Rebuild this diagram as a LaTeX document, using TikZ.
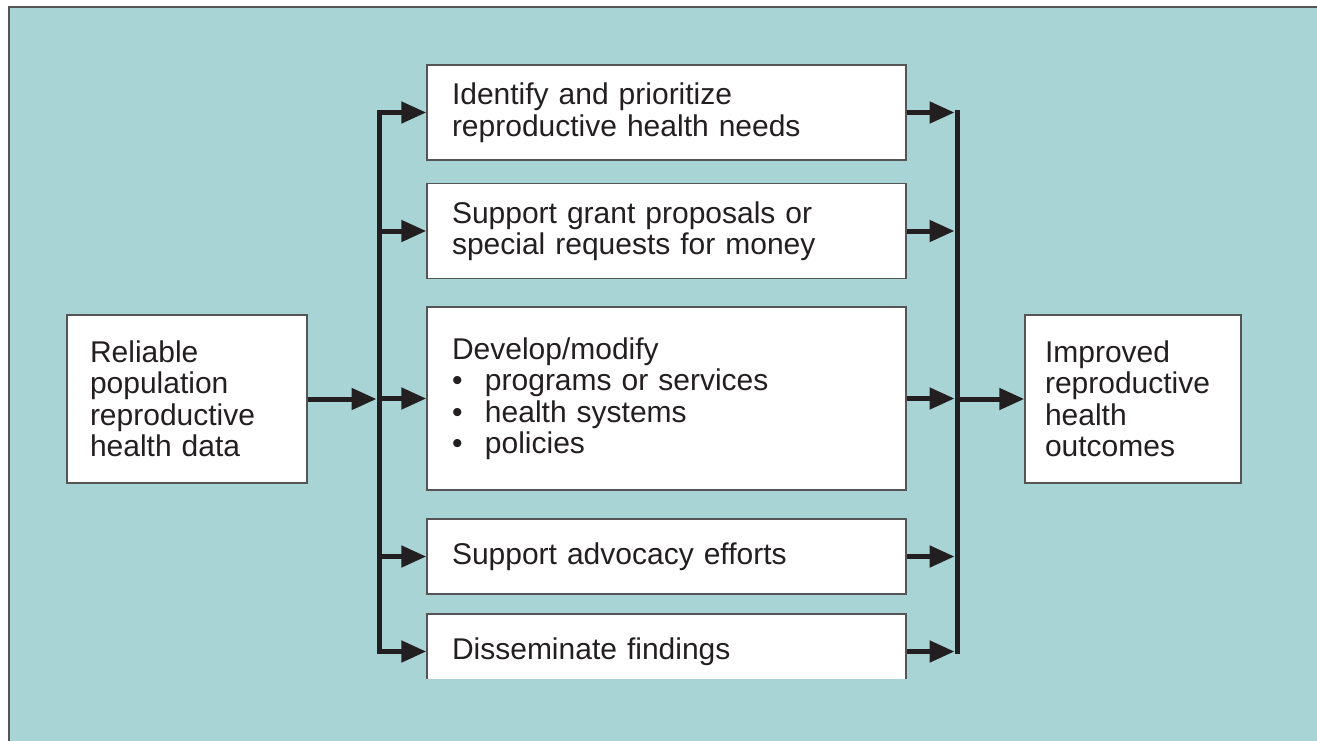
\documentclass[tikz,border=0pt]{standalone}
\usepackage{fontspec}
\setmainfont{Liberation Sans}
\usepackage{tikz}
\usetikzlibrary{arrows.meta,calc}
\definecolor{bg}{HTML}{A8D4D5}
\definecolor{ink}{HTML}{231F20}
\definecolor{edge}{HTML}{555555}
\tikzset{
  frame/.style={line width=2pt, draw=edge},
  box/.style={draw=edge, line width=1.5pt, fill=white, text=ink, align=left,
    font=\fontsize{30}{31.5}\selectfont, inner ysep=0pt},
  midbox/.style={box, inner xsep=25pt, text width=429pt, minimum width=479pt},
  bus/.style={line width=5pt, draw=ink, line cap=rect},
  arr/.style={-{Triangle[length=25pt,width=21pt]}, line width=5pt, draw=ink}
}
\newcommand{\Item}[1]{\makebox[33pt][l]{•}#1}
\begin{document}
\begin{tikzpicture}[x=1pt,y=-1pt]
  \useasboundingbox (0,0) rectangle (1317,740);
  \fill[bg] (9,7) rectangle (1340,760);
  \draw[frame] (9,760) -- (9,7) -- (1340,7);
  % input and output
  \node[box, inner xsep=23pt, text width=194pt, minimum height=168pt] (data) at (187,399)
    {Reliable\\population\\reproductive\\health data};
  \node[box, inner xsep=20pt, text width=176pt, minimum height=168pt] (outcome) at (1133,399)
    {Improved\\reproductive\\health\\outcomes};
  % uses of the data
  \node[midbox, minimum height=95pt] (need) at (666.5,112.5)
    {Identify and prioritize\\reproductive health needs};
  \node[midbox, minimum height=95pt] (grant) at (666.5,231)
    {Support grant proposals or\\special requests for money};
  \node[midbox, minimum height=183pt] (dev) at (666.5,398.5)
    {Develop/modify\\\Item{programs or services}\\\Item{health systems}\\\Item{policies}};
  \node[midbox, minimum height=75pt] (adv) at (666.5,556.5)
    {Support advocacy efforts};
  \begin{scope}
    \clip (0,0) rectangle (1317,678);
    \node[midbox, minimum height=75pt] (diss) at (666.5,651.5)
      {Disseminate findings};
  \end{scope}
  \coordinate (lx) at (379,0);
  \coordinate (rx) at (957,0);
  \draw[bus] (need.west -| lx) -- (diss.west -| lx);
  \draw[bus] (need.east -| rx) -- (diss.east -| rx);
  \draw[arr, shorten >=2.5pt] (data.east) -- (data.east -| lx);
  \foreach \b in {need,grant,dev,adv,diss}{
    \draw[arr] (\b.west -| lx) -- (\b.west);
    \draw[arr, shorten >=2.5pt] (\b.east) -- (\b.east -| rx);
  }
  \draw[arr] (outcome.west -| rx) -- (outcome.west);
\end{tikzpicture}
\end{document}
